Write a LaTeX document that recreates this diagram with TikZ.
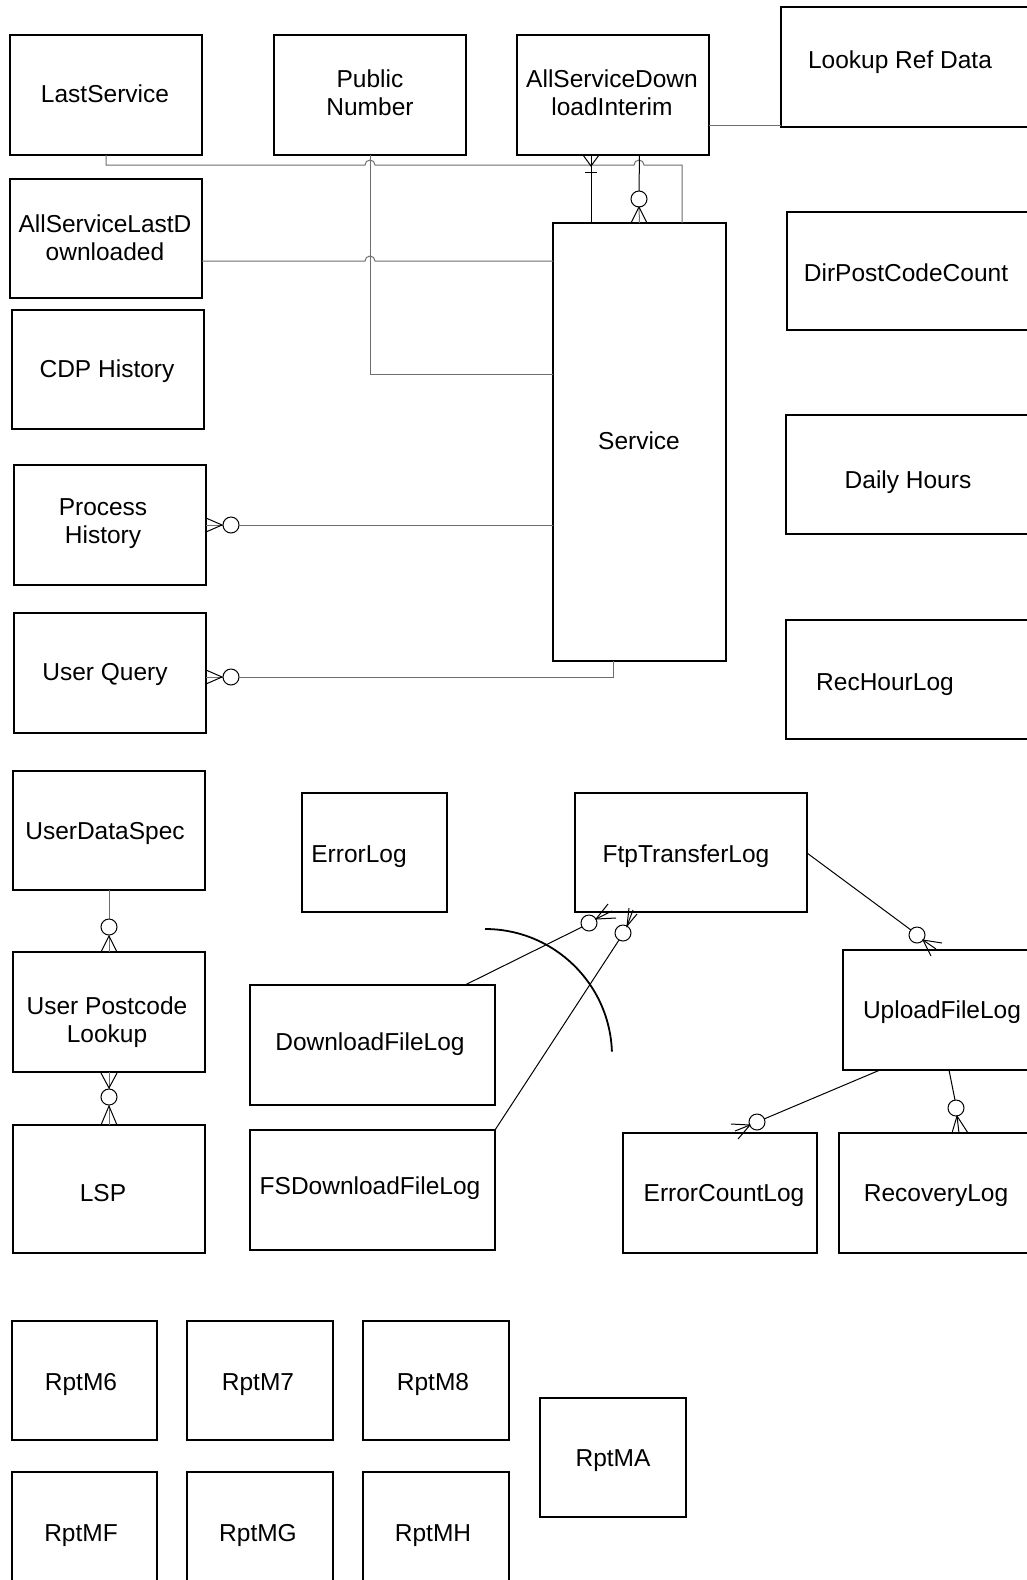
\documentclass[tikz,border=0pt]{standalone}
\usepackage{fontspec}
\setmainfont{Liberation Sans}
\usetikzlibrary{calc}
\definecolor{linegray}{RGB}{110,110,110}
\newcommand\entbox[5]{\node[ent, minimum width={(#4-#2)*1pt}, minimum height={(#5-#3)*1pt}] (#1) at ({(#2+#4)/2},{(#3+#5)/2}) {};}
\begin{document}
\begin{tikzpicture}[x=1pt,y=-1pt,
  ent/.style={draw=black, line width=1.8pt, inner sep=0pt, outer sep=0pt},
  lbl/.style={font=\fontsize{24.5}{28}\selectfont, inner sep=0pt, align=center},
  oneline/.style={text height=17.5pt, text depth=0pt},
  rel/.style={draw=black, line width=1pt},
  grel/.style={draw=linegray, line width=1pt},
  optc/.style={draw=black, line width=1pt, fill=white}]
\clip (0,0) rectangle (1027,1580);
\fill[white] (0,0) rectangle (1027,1580);

% entity boxes
\entbox{last}{10}{35}{202}{155}
\entbox{pub}{274}{35}{466}{155}
\entbox{asdi}{517}{35}{709}{155}
\entbox{lookup}{781}{7}{1045}{127}
\entbox{asld}{10}{179}{202}{298}
\entbox{cdp}{12}{310}{204}{429}
\entbox{svc}{553}{223}{726}{661}
\entbox{dpc}{787}{212}{1045}{330}
\entbox{daily}{786}{415}{1045}{534}
\entbox{rec}{786}{620}{1045}{739}
\entbox{proc}{14}{465}{206}{585}
\entbox{uq}{14}{613}{206}{733}
\entbox{uds}{13}{771}{205}{890}
\entbox{elog}{302}{793}{447}{912}
\entbox{ftp}{575}{793}{807}{912}
\entbox{upl}{13}{952}{205}{1072}
\entbox{dfl}{250}{985}{495}{1105}
\entbox{ufl}{843}{950}{1045}{1070}
\entbox{lsp}{13}{1125}{205}{1253}
\entbox{fsd}{250}{1130}{495}{1250}
\entbox{ecl}{623}{1133}{817}{1253}
\entbox{rlog}{839}{1133}{1045}{1253}
\entbox{m6}{12}{1321}{157}{1440}
\entbox{m7}{187}{1321}{333}{1440}
\entbox{m8}{363}{1321}{509}{1440}
\entbox{ma}{540}{1398}{686}{1517}
\entbox{mf}{12}{1472}{157}{1600}
\entbox{mg}{187}{1472}{333}{1600}
\entbox{mh}{363}{1472}{509}{1600}

% labels
\node[lbl,oneline] (t-last) at (105,94) {LastService};
\node[lbl] (t-pub) at (370,93) {Public\\Number};
\node[lbl] (t-asdi) at (612,93) {AllServiceDown\\loadInterim};
\node[lbl,oneline] (t-lookup) at (900,60) {Lookup Ref Data};
\node[lbl] (t-asld) at (105,238) {AllServiceLastD\\ownloaded};
\node[lbl,oneline] (t-cdp) at (107,369) {CDP History};
\node[lbl,oneline] (t-svc) at (639,441) {Service};
\node[lbl,oneline] (t-dpc) at (906,273) {DirPostCodeCount};
\node[lbl,oneline] (t-daily) at (908,480) {Daily Hours};
\node[lbl,oneline] (t-rec) at (885,682) {RecHourLog};
\node[lbl] (t-proc) at (103,524) {Process\\History};
\node[lbl,oneline] (t-uq) at (105,672) {User Query};
\node[lbl,oneline] (t-uds) at (105,831) {UserDataSpec};
\node[lbl,oneline] (t-elog) at (359,854) {ErrorLog};
\node[lbl,oneline] (t-ftp) at (686,854) {FtpTransferLog};
\node[lbl] (t-upl) at (107,1022) {User Postcode\\Lookup};
\node[lbl,oneline] (t-dfl) at (370,1042) {DownloadFileLog};
\node[lbl,oneline] (t-ufl) at (942,1010) {UploadFileLog};
\node[lbl,oneline] (t-lsp) at (103,1193) {LSP};
\node[lbl,oneline] (t-fsd) at (370,1186) {FSDownloadFileLog};
\node[lbl,oneline] (t-ecl) at (724,1193) {ErrorCountLog};
\node[lbl,oneline] (t-rlog) at (936,1193) {RecoveryLog};
\node[lbl,oneline] (t-m6) at (81,1382) {RptM6};
\node[lbl,oneline] (t-m7) at (258,1382) {RptM7};
\node[lbl,oneline] (t-m8) at (433,1382) {RptM8};
\node[lbl,oneline] (t-ma) at (613,1458) {RptMA};
\node[lbl,oneline] (t-mf) at (81,1533) {RptMF};
\node[lbl,oneline] (t-mg) at (258,1533) {RptMG};
\node[lbl,oneline] (t-mh) at (433,1533) {RptMH};

% LastService -> Service (with hops)
\draw[grel] (last.south) -- (106,165) -- (365,165)
  arc[start angle=180, end angle=360, radius=5] -- (634,165)
  arc[start angle=180, end angle=360, radius=5] -- (682,165) -- (682,165 |- svc.north);
% AllServiceDownloadInterim -> Service (x=591)
\draw[rel] (asdi.south -| 591,0) -- (svc.north -| 591,0);
\draw[rel] (583,155) -- (591,166) -- (599,155);
\draw[rel] (585,172) -- (597,172);
% AllServiceDownloadInterim -> Service (centre, zero-or-many)
\draw[rel] (asdi.south -| svc.north) -- (639,191);
\draw[grel] (639,207) -- (svc.north);
\draw[optc] (639,199) circle[radius=8];
\draw[rel] (631,223) -- (639,207) -- (647,223);
% Public Number -> Service
\draw[grel] (pub.south) -- (370,374) -- (svc.west |- 0,374);
% AllServiceLastDownloaded -> Service
\draw[grel] (asld.east |- 0,261) -- (365,261)
  arc[start angle=180, end angle=360, radius=5] -- (svc.west |- 0,261);
% AllServiceDownloadInterim -> Lookup Ref Data
\draw[grel] (asdi.east |- 0,125) -- (lookup.west |- 0,125);
% Process History -> Service
\draw[grel] (proc.east) -- (223,525);
\draw[rel] (206,518) -- (222,525) -- (206,532);
\draw[optc] (231,525) circle[radius=8];
\draw[grel] (239,525) -- (svc.west |- proc.east);
% User Query -> Service
\draw[grel] (uq.east |- 0,677) -- (223,677);
\draw[rel] (206,670) -- (222,677) -- (206,684);
\draw[optc] (231,677) circle[radius=8];
\draw[grel] (239,677) -- (613,677) -- (613,677 |- svc.south);
% UserDataSpec -> User Postcode Lookup
\draw[grel] (uds.south) -- (109,919);
\draw[optc] (109,927) circle[radius=8];
\draw[grel] (109,935) -- (upl.north);
\draw[rel] (101,952) -- (109,936) -- (117,952);
% User Postcode Lookup -> LSP
\draw[grel] (upl.south) -- (109,1089);
\draw[rel] (101,1073) -- (109,1088) -- (117,1073);
\draw[optc] (109,1097) circle[radius=8];
\draw[grel] (109,1105) -- (lsp.north);
\draw[rel] (101,1125) -- (109,1106) -- (117,1125);
% DownloadFileLog -> FtpTransferLog
\draw[rel] (dfl.north -| 465,0) -- (582,927);
\draw[optc] (589,923) circle[radius=8];
\draw[rel] (608,904) -- (596,919) -- (616,918);
\draw[rel] (596,919) -- (612,911);
% FSDownloadFileLog -> FtpTransferLog
\draw[rel] (fsd.north east) -- (619,940);
\draw[optc] (623,933) circle[radius=8];
\draw[rel] (629,908) -- (627,926) -- (637,914);
\draw[rel] (627,926) -- (633,910);
% big arc
\draw[black, line width=1.8pt] (485,929) arc[start angle=-90, end angle=-2, radius=127];
% FtpTransferLog -> UploadFileLog
\draw[rel] (ftp.east |- 0,853) -- (911,930);
\draw[optc] (917,935) circle[radius=8];
\draw[rel] (931,956) -- (923,940) -- (942,943);
\draw[rel] (923,940) -- (936,949);
% UploadFileLog -> ErrorCountLog
\draw[rel] (ufl.south -| 880,0) -- (764,1119);
\draw[optc] (757,1122) circle[radius=8];
\draw[rel] (731,1124) -- (750,1125) -- (738,1139);
\draw[rel] (750,1125) -- (735,1131);
% UploadFileLog -> RecoveryLog
\draw[rel] (ufl.south -| 949,0) -- (955,1100);
\draw[optc] (956,1108) circle[radius=8];
\draw[rel] (952,1133) -- (957,1116) -- (968,1133);
\draw[rel] (957,1116) -- (959,1133);
\end{tikzpicture}
\end{document}
